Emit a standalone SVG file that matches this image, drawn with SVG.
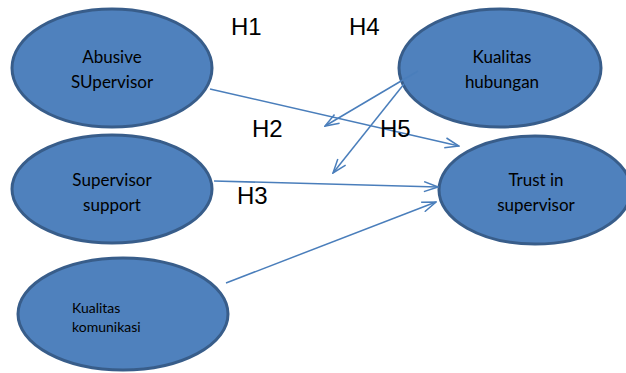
<svg xmlns="http://www.w3.org/2000/svg" width="626" height="373" viewBox="0 0 626 373">
<defs>
<marker id="ah" viewBox="0 0 16 12" refX="15" refY="6" markerWidth="16" markerHeight="12" markerUnits="userSpaceOnUse" orient="auto">
<path d="M1,1 L15,6 L1,11" fill="none" stroke="#4a7ebb" stroke-width="1.5"/>
</marker>
<style>
.node{fill:#4f81bd;stroke:#385d8a;stroke-width:3}
.t{font-family:Lato,"Open Sans","Liberation Sans",sans-serif;font-size:17px;fill:#000;text-anchor:middle}
.s{font-family:Lato,"Open Sans","Liberation Sans",sans-serif;font-size:14px;fill:#000}
.h{font-family:"Liberation Sans",Arial,sans-serif;font-size:24px;fill:#000}
.c{stroke:#4a7ebb;stroke-width:1.5;fill:none;marker-end:url(#ah)}
</style>
</defs>
<rect width="626" height="373" fill="#fff"/>
<g id="abusive">
<ellipse class="node" cx="112" cy="68" rx="100" ry="59"/>
<text class="t" x="112" y="63">Abusive</text>
<text class="t" x="112" y="88">SUpervisor</text>
</g>
<g id="support">
<ellipse class="node" cx="112" cy="189" rx="100" ry="54"/>
<text class="t" x="112" y="186">Supervisor</text>
<text class="t" x="112" y="211">support</text>
</g>
<g id="komunikasi">
<ellipse class="node" cx="123" cy="314" rx="105" ry="56"/>
<text class="s" x="72" y="313">Kualitas</text>
<text class="s" x="72" y="332">komunikasi</text>
</g>
<g id="hubungan">
<ellipse class="node" cx="500" cy="68" rx="101" ry="59"/>
<text class="t" x="502" y="63">Kualitas</text>
<text class="t" x="502" y="88">hubungan</text>
</g>
<g id="trust">
<ellipse class="node" cx="535" cy="190" rx="96" ry="54"/>
<text class="t" x="536" y="186">Trust in</text>
<text class="t" x="536" y="211">supervisor</text>
</g>
<g id="connectors">
<line class="c" x1="210" y1="89" x2="459" y2="146"/>
<line class="c" x1="214" y1="181" x2="438" y2="187"/>
<line class="c" x1="226" y1="283" x2="436" y2="202"/>
<line class="c" x1="418" y1="71" x2="325" y2="126"/>
<line class="c" x1="404" y1="84" x2="333" y2="173"/>
</g>
<g id="labels">
<text class="h" x="231" y="35">H1</text>
<text class="h" x="349" y="35">H4</text>
<text class="h" x="252" y="137">H2</text>
<text class="h" x="380" y="137">H5</text>
<text class="h" x="237" y="204">H3</text>
</g>
</svg>
